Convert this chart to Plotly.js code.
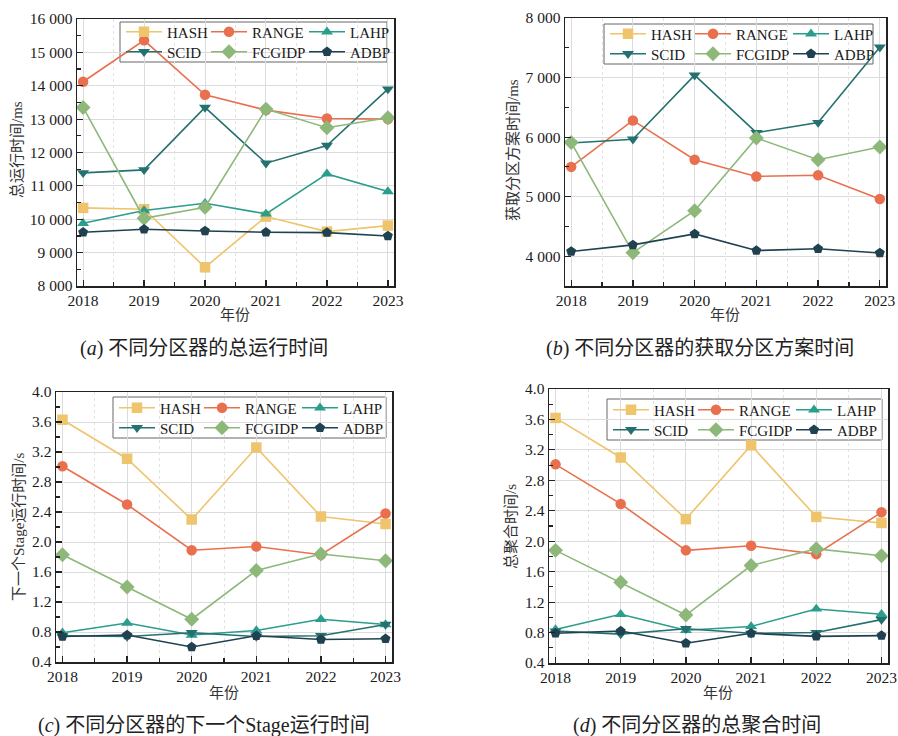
<!DOCTYPE html>
<html>
<head>
<meta charset="utf-8">
<script src="https://cdn.plot.ly/plotly-3.0.1.min.js"></script>
<style>html,body{margin:0;padding:0;background:#fff;}#chart{width:898px;height:736px;}</style>
</head>
<body>
<div id="chart"></div>
<script>
const years = [2018, 2019, 2020, 2021, 2022, 2023];
const seriesNames = ["HASH", "RANGE", "LAHP", "SCID", "FCGIDP", "ADBP"];

// (a) 总运行时间 / ms
const totalRunHASH   = [10340, 10300, 8560, 10080, 9630, 9810];
const totalRunRANGE  = [14120, 15360, 13730, 13270, 13020, 13000];
const totalRunLAHP   = [9880, 10260, 10480, 10160, 11360, 10830];
const totalRunSCID   = [11390, 11480, 13350, 11680, 12210, 13900];
const totalRunFCGIDP = [13350, 10030, 10360, 13300, 12740, 13040];
const totalRunADBP   = [9610, 9700, 9650, 9610, 9600, 9500];

// (b) 获取分区方案时间 / ms (HASH, LAHP not drawn in the figure)
const planHASH   = [null, null, null, null, null, null];
const planRANGE  = [5500, 6280, 5620, 5340, 5360, 4960];
const planLAHP   = [null, null, null, null, null, null];
const planSCID   = [5900, 5965, 7040, 6075, 6245, 7510];
const planFCGIDP = [5910, 4060, 4765, 5985, 5620, 5835];
const planADBP   = [4080, 4190, 4375, 4095, 4125, 4055];

// (c) 下一个Stage运行时间 / s
const stageHASH   = [3.63, 3.11, 2.30, 3.26, 2.34, 2.24];
const stageRANGE  = [3.01, 2.50, 1.89, 1.94, 1.83, 2.38];
const stageLAHP   = [0.79, 0.92, 0.76, 0.82, 0.97, 0.90];
const stageSCID   = [0.75, 0.74, 0.79, 0.74, 0.75, 0.90];
const stageFCGIDP = [1.83, 1.40, 0.97, 1.62, 1.84, 1.75];
const stageADBP   = [0.74, 0.76, 0.60, 0.75, 0.70, 0.71];

// (d) 总聚合时间 / s
const aggHASH   = [3.62, 3.10, 2.29, 3.26, 2.32, 2.24];
const aggRANGE  = [3.01, 2.49, 1.88, 1.94, 1.83, 2.38];
const aggLAHP   = [0.84, 1.04, 0.83, 0.88, 1.11, 1.04];
const aggSCID   = [0.82, 0.78, 0.85, 0.79, 0.80, 0.97];
const aggFCGIDP = [1.88, 1.46, 1.03, 1.68, 1.90, 1.81];
const aggADBP   = [0.79, 0.82, 0.66, 0.79, 0.75, 0.76];

const yTitles = ["总运行时间/ms", "获取分区方案时间/ms", "下一个Stage运行时间/s", "总聚合时间/s"];
const captions = ["(<i>a</i>) 不同分区器的总运行时间", "(<i>b</i>) 不同分区器的获取分区方案时间",
                  "(<i>c</i>) 不同分区器的下一个Stage运行时间", "(<i>d</i>) 不同分区器的总聚合时间"];
const xTitle = "年份";

const colors = {HASH:"#EEC46C", RANGE:"#E8704E", LAHP:"#2A9D8C", SCID:"#24716F", FCGIDP:"#8DB87A", ADBP:"#1F4150"};
const symbols = {HASH:"square", RANGE:"circle", LAHP:"triangle-up", SCID:"triangle-down", FCGIDP:"diamond", ADBP:"pentagon"};
const colWidth = [34, 47, 40];

const panels = [
  [totalRunHASH, totalRunRANGE, totalRunLAHP, totalRunSCID, totalRunFCGIDP, totalRunADBP],
  [planHASH, planRANGE, planLAHP, planSCID, planFCGIDP, planADBP],
  [stageHASH, stageRANGE, stageLAHP, stageSCID, stageFCGIDP, stageADBP],
  [aggHASH, aggRANGE, aggLAHP, aggSCID, aggFCGIDP, aggADBP]
];

const W = 898, H = 736;
const xRange = [2017.9, 2023.1];
// plot boxes in px [x0,x1,y0(top),y1(bottom)]
const boxes = [[77,394,19,286],[565,886,18,286],[56,392,392,662],[549,888,389,663]];
// legend boxes [x0,x1,y0,y1] and row centers
const legBoxes = [[120,387,22,62],[604,873,24,64],[113,386,397,438],[607,882,399,440]];
const legRows = [[32,52],[34,54],[408,428],[410,430]];
const xTitlePos = [[235,315],[725,315],[224,693],[718,693]];
const yTitlePos = [[17,150],[513,150],[19,527],[511,527]];
const captionPos = [[204,348],[700,348],[204,725],[697,725]];

const serif = "Liberation Serif, Noto Sans CJK SC, serif";
const traces = [];
const layout = {
  width: W, height: H, margin:{l:0,r:0,t:0,b:0},
  paper_bgcolor:"#fff", plot_bgcolor:"#fff",
  separators: ". ",
  font:{family: serif, size:15, color:"#1a1a1a"},
  annotations: [], shapes: [], showlegend:true
};

const yCfg = [
  {range:[8000,16000], dtick:1000, minor:500, fmt:",d", tick0:8000},
  {range:[3500,8000], dtick:1000, minor:500, fmt:",d", tick0:4000},
  {range:[0.4,4.0], dtick:0.4, minor:0.2, fmt:".1f", tick0:0.4},
  {range:[0.4,4.0], dtick:0.4, minor:0.2, fmt:".1f", tick0:0.4}
];

function legName(n){ return n === 1 ? "legend" : "legend" + n; }

panels.forEach((vals, p) => {
  const sfx = p === 0 ? "" : String(p + 1);
  const b = boxes[p];
  const yc = yCfg[p];
  vals.forEach((v, i) => {
    const name = seriesNames[i];
    traces.push({
      type:"scatter", mode:"lines+markers", x: years, y: v, name: name,
      xaxis:"x"+sfx, yaxis:"y"+sfx, legend: legName(2*p + (i < 3 ? 1 : 2)),
      legendwidth: colWidth[i % 3],
      line:{color:colors[name], width:1.6},
      marker:{symbol:symbols[name], size: name==="FCGIDP"?11.5:10.5, color:colors[name]},
      cliponaxis:false
    });
  });
  layout["xaxis"+sfx] = {
    domain:[b[0]/W, b[1]/W], anchor:"y"+sfx, range: xRange,
    tickvals: years, ticktext: years.map(String),
    ticks:"inside", ticklen:6, tickwidth:1.2, tickcolor:"#222",
    showline:true, linecolor:"#222", linewidth:1.5, mirror:true,
    showgrid:true, gridcolor:"#dcdcdc", gridwidth:1, zeroline:false,
    tickfont:{family:serif, size:15.5, color:"#1a1a1a"},
    minor:{dtick:0.5, tick0:2017.5, ticks:"inside", ticklen:4, tickcolor:"#222", showgrid:true, gridcolor:"#e2e2e2", griddash:"dot", gridwidth:1}
  };
  layout["yaxis"+sfx] = {
    domain:[1 - b[3]/H, 1 - b[2]/H], anchor:"x"+sfx, range: yc.range,
    dtick: yc.dtick, tick0: yc.tick0, tickformat: yc.fmt, exponentformat:"none",
    ticks:"inside", ticklen:6, tickwidth:1.2, tickcolor:"#222",
    showline:true, linecolor:"#222", linewidth:1.5, mirror:true,
    showgrid:true, gridcolor:"#dcdcdc", gridwidth:1, zeroline:false,
    tickfont:{family:serif, size:15.5, color:"#1a1a1a"},
    minor:{dtick: yc.minor, ticks:"inside", ticklen:4, tickcolor:"#222", showgrid:false}
  };
  const lb = legBoxes[p];
  [0,1].forEach(r => {
    layout[legName(2*p + r + 1)] = {
      x: (lb[0]+1)/W, y: 1 - legRows[p][r]/H, xanchor:"left", yanchor:"middle",
      orientation:"h", bgcolor:"rgba(0,0,0,0)", borderwidth:0,
      font:{family:serif, size:15, color:"#1a1a1a"}, itemwidth:36,
      tracegroupgap:0, traceorder:"normal", itemclick:false
    };
  });
  // legend frame, in the subplot's data coordinates, under the traces
  const px2x = px => xRange[0] + (px - b[0]) / (b[1] - b[0]) * (xRange[1] - xRange[0]);
  const py2y = py => yc.range[0] + (b[3] - py) / (b[3] - b[2]) * (yc.range[1] - yc.range[0]);
  layout.shapes.push({
    type:"rect", xref:"x"+sfx, yref:"y"+sfx, layer:"below",
    x0:px2x(lb[0]), x1:px2x(lb[1]), y0:py2y(lb[3]), y1:py2y(lb[2]),
    line:{color:"#666", width:1}, fillcolor:"#fff"
  });
  layout.annotations.push({
    xref:"paper", yref:"paper", x: xTitlePos[p][0]/W, y: 1 - xTitlePos[p][1]/H,
    text: xTitle, showarrow:false, xanchor:"center", yanchor:"middle",
    font:{family:serif, size:15, color:"#333"}
  });
  layout.annotations.push({
    xref:"paper", yref:"paper", x: yTitlePos[p][0]/W, y: 1 - yTitlePos[p][1]/H,
    text: yTitles[p], showarrow:false, xanchor:"center", yanchor:"middle", textangle:-90,
    font:{family:serif, size:15, color:"#333"}
  });
  layout.annotations.push({
    xref:"paper", yref:"paper", x: captionPos[p][0]/W, y: 1 - captionPos[p][1]/H,
    text: captions[p], showarrow:false, xanchor:"center", yanchor:"middle",
    font:{family:serif, size:20, color:"#222"}
  });
});

Plotly.newPlot("chart", traces, layout, {staticPlot:true, displayModeBar:false});
</script>
</body>
</html>
